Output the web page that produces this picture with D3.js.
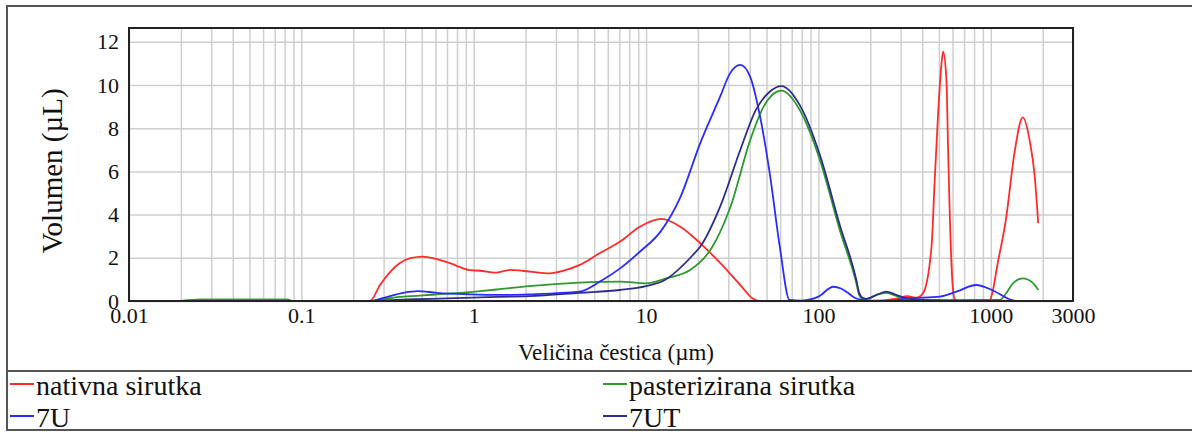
<!DOCTYPE html>
<html>
<head>
<meta charset="utf-8">
<script src="https://cdnjs.cloudflare.com/ajax/libs/d3/7.8.5/d3.min.js"></script>
<style>
  body { margin: 0; background: #fff; }
  svg { display: block; }
  .grid line { stroke: #cfcfcf; stroke-width: 1.5; }
  .grid path { display: none; }
</style>
</head>
<body>
<svg width="1192" height="432"></svg>
<script>
/* particle size distribution */
const xTickLabels = [0.01, 0.1, 1, 10, 100, 1000, 3000]
const yTicks = [0, 2, 4, 6, 8, 10, 12]

const seriesNames = ["nativna sirutka", "pasterizirana sirutka", "7U", "7UT"]

// [size µm, volume µL]
const nativna = [
  [0.02, 0], [0.1, 0], [0.25, 0], [0.286, 0.74], [0.373, 1.76], [0.43, 1.98], [0.507, 2.05],
  [0.6, 1.95], [0.727, 1.75], [0.95, 1.43], [1.09, 1.4], [1.33, 1.31], [1.63, 1.44], [1.92, 1.4],
  [2.66, 1.28], [3.3, 1.4], [4.13, 1.67], [5.4, 2.22], [7.07, 2.75], [9.2, 3.44], [12.3, 3.8],
  [15.8, 3.44], [20.6, 2.68], [26.9, 1.76], [35.2, 0.74], [41.8, 0.1], [45, 0], [100, 0],
  [200, 0], [280, 0.1], [330, 0.22], [370, 0.15], [405, 0.37], [453, 2.51], [473, 5.6],
  [495, 8.69], [518, 11.0], [529, 11.54], [553, 10.23], [565, 7.14], [578, 4.07], [598, 0.97],
  [617, 0.1], [650, 0], [980, 0], [1030, 0.5], [1079, 1.43], [1231, 3.9], [1372, 6.85],
  [1534, 8.5], [1680, 7.45], [1800, 5.75], [1885, 3.6]
]
const pasterizirana = [
  [0.02, 0], [0.026, 0.07], [0.083, 0.07], [0.09, 0], [0.25, 0], [0.3, 0.1], [0.39, 0.2],
  [0.6, 0.3], [1.09, 0.46], [1.42, 0.55], [2.1, 0.69], [4.1, 0.85], [7.07, 0.9], [10, 0.82],
  [13.2, 1.06], [18, 1.43], [24, 2.45], [31, 4.4], [40.2, 7.45], [48.1, 9.0], [61, 9.74],
  [78, 8.84], [102, 6.53], [133, 3.29], [166, 0.82], [172, 0.3], [180, 0.12], [190, 0.1],
  [220, 0.3], [248, 0.38], [280, 0.25], [308, 0.1], [350, 0.03], [632, 0.03], [1125, 0.05],
  [1231, 0.37], [1345, 0.82], [1534, 1.05], [1746, 0.85], [1890, 0.51]
]
const u7 = [
  [0.02, 0], [0.25, 0], [0.3, 0.15], [0.39, 0.38], [0.47, 0.46], [0.61, 0.38], [0.95, 0.31],
  [1.42, 0.28], [2.1, 0.31], [4.1, 0.43], [5.4, 0.9], [7.07, 1.51], [9.2, 2.28], [12.1, 3.2],
  [15.8, 4.8], [20.6, 7.3], [26.9, 9.46], [30.7, 10.54], [35.2, 10.93], [40.2, 10.38],
  [45.9, 8.53], [52.2, 5.91], [59.7, 2.51], [68, 0.05], [80, 0.02], [100, 0.2], [122, 0.66],
  [135, 0.58], [150, 0.35], [162, 0.15], [180, 0.05], [227, 0], [270, 0.02], [325, 0.12],
  [506, 0.2], [632, 0.43], [823, 0.74], [1016, 0.51], [1286, 0.08], [1400, 0], [1890, 0]
]
const ut7 = [
  [0.02, 0], [0.25, 0], [0.3, 0.03], [0.45, 0.08], [0.7, 0.12], [1.09, 0.17], [2.1, 0.23],
  [4.1, 0.38], [7.07, 0.51], [10, 0.69], [12.7, 0.95], [18.7, 2.13], [20.6, 2.51], [26.9, 4.37],
  [35.2, 6.99], [43.3, 8.84], [52.2, 9.69], [61, 9.95], [78, 9.07], [102, 6.76], [133, 3.52],
  [166, 0.97], [172, 0.4], [180, 0.15], [190, 0.1], [220, 0.3], [248, 0.43], [280, 0.3],
  [325, 0.12], [400, 0.05], [632, 0.03], [1000, 0.02], [1890, 0]
]

const seriesData = [nativna, pasterizirana, u7, ut7]
const colors = ["#ff2a2a", "#2e9a2e", "#2b2bff", "#2d2d8c"]
const serif = "Liberation Serif, Times New Roman, serif"

const svg = d3.select("svg")

// outer frame + legend separator
svg.append("rect")
    .attr("x", 7).attr("y", 6)
    .attr("width", 1200).attr("height", 424)
    .attr("fill", "none").attr("stroke", "#555").attr("stroke-width", 2)
svg.append("line")
    .attr("x1", 7).attr("x2", 1192).attr("y1", 371).attr("y2", 371)
    .attr("stroke", "#555").attr("stroke-width", 2)

const plotLeft = 129, plotTop = 28, plotRight = 1073, plotBottom = 301

const x = d3.scaleLog().domain([0.01, 3000]).range([plotLeft, plotRight])
const y = d3.scaleLinear().domain([0, 12.64]).range([plotBottom, plotTop])

// grid
svg.append("g")
    .attr("class", "grid")
    .attr("transform", "translate(0," + plotBottom + ")")
    .call(d3.axisBottom(x).ticks(10).tickSize(-(plotBottom - plotTop)).tickFormat(""))
svg.append("g")
    .attr("class", "grid")
    .attr("transform", "translate(" + plotLeft + ",0)")
    .call(d3.axisLeft(y).tickValues(yTicks).tickSize(-(plotRight - plotLeft)).tickFormat(""))

// series
const line = d3.line()
    .x(d => x(d[0]))
    .y(d => y(d[1]))
    .curve(d3.curveMonotoneX)

seriesData.forEach((s, i) => {
    svg.append("path")
        .datum(s)
        .attr("d", line)
        .attr("fill", "none")
        .attr("stroke", colors[i])
        .attr("stroke-width", 1.8)
})

// plot border
svg.append("rect")
    .attr("x", plotLeft).attr("y", plotTop)
    .attr("width", plotRight - plotLeft).attr("height", plotBottom - plotTop)
    .attr("fill", "none").attr("stroke", "#222").attr("stroke-width", 2)

// tick labels
const xAxis = svg.append("g")
    .attr("transform", "translate(0," + plotBottom + ")")
    .call(d3.axisBottom(x).tickValues(xTickLabels).tickSize(0).tickPadding(6).tickFormat(d => d))
xAxis.select(".domain").remove()
xAxis.selectAll("text")
    .attr("font-family", serif)
    .attr("font-size", 22).attr("fill", "#111")

const yAxis = svg.append("g")
    .attr("transform", "translate(" + plotLeft + ",0)")
    .call(d3.axisLeft(y).tickValues(yTicks).tickSize(0).tickPadding(10))
yAxis.select(".domain").remove()
yAxis.selectAll("text")
    .attr("font-family", serif)
    .attr("font-size", 22).attr("fill", "#111")

// axis titles
svg.append("text")
    .attr("x", 616).attr("y", 360)
    .attr("text-anchor", "middle")
    .attr("font-family", serif)
    .attr("font-size", 23).attr("fill", "#111")
    .text("Veličina čestica (µm)")
svg.append("text")
    .attr("transform", "translate(62,171) rotate(-90)")
    .attr("text-anchor", "middle")
    .attr("font-family", serif)
    .attr("font-size", 29).attr("fill", "#111")
    .text("Volumen (µL)")

// legend
const legendPos = [[10, 384], [603, 384], [10, 416], [603, 416]]
seriesNames.forEach((name, i) => {
    const [lx, ly] = legendPos[i]
    svg.append("line")
        .attr("x1", lx).attr("x2", lx + 24).attr("y1", ly).attr("y2", ly)
        .attr("stroke", colors[i]).attr("stroke-width", 2)
    svg.append("text")
        .attr("x", lx + 26).attr("y", ly + 11)
        .attr("font-family", serif)
        .attr("font-size", 28).attr("fill", "#111")
        .text(name)
})
</script>
</body>
</html>
